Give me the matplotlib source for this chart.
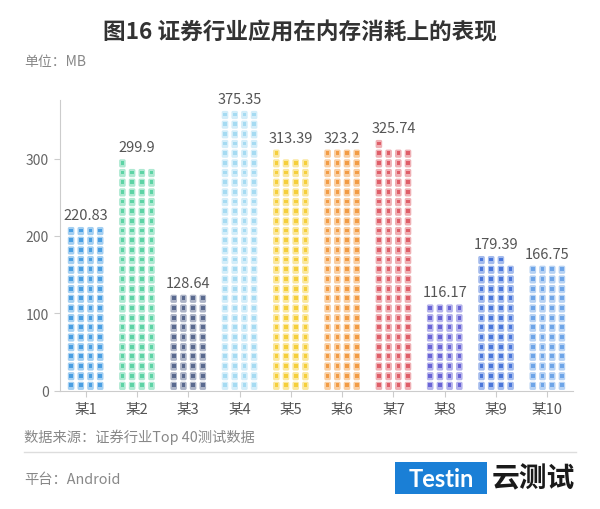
import numpy as np
import matplotlib.pyplot as plt
from matplotlib.patches import FancyBboxPatch, Rectangle
from matplotlib.collections import PatchCollection
from matplotlib.colors import to_rgb

plt.rcParams['font.family'] = ['Noto Sans CJK SC', 'DejaVu Sans']

# data
categories = ["某1", "某2", "某3", "某4", "某5", "某6", "某7", "某8", "某9", "某10"]
memory_mb = [220.83, 299.9, 128.64, 375.35, 313.39, 323.2, 325.74, 116.17, 179.39, 166.75]
colors = ["#4a9fe3", "#5dd3a5", "#5a6a8f", "#a6dbf2", "#f5cf3c",
          "#f29c45", "#df5f69", "#6a64d6", "#4a77db", "#6ea5e8"]
y_ticks = [0, 100, 200, 300]

mb_per_icon = 3.236   # each phone icon stands for this many MB
n_cols = 4
row_step = 12.5       # vertical pitch of one icon row, in MB

W, H = 600, 510
fig = plt.figure(figsize=(W / 100, H / 100), dpi=100)
ax_left, ax_right, ax_bottom, ax_top = 60, 573, 391.7, 101.2
ax = fig.add_axes([ax_left / W, 1 - ax_bottom / H,
                   (ax_right - ax_left) / W, (ax_bottom - ax_top) / H])

ymax = max(memory_mb)
ax.set_xlim(-0.5, len(categories) - 0.5)
ax.set_ylim(0, ymax)

# pixel -> data conversion
px_x = len(categories) / (ax_right - ax_left)
px_y = ymax / (ax_bottom - ax_top)

col_dx = 9.7 * px_x
icon_w, icon_h = 6.6 * px_x, 8.2 * px_y
scr_w, scr_h = 3.6 * px_x, 3.8 * px_y


def tint(c, amount):
    r, g, b = to_rgb(c)
    return (r + (1 - r) * amount, g + (1 - g) * amount, b + (1 - b) * amount)


outer, inner, outer_c, inner_c = [], [], [], []
tops = []
for i, (v, c) in enumerate(zip(memory_mb, colors)):
    n = int(round(v / mb_per_icon))
    base, extra = divmod(n, n_cols)
    col_counts = [base + (1 if k < extra else 0) for k in range(n_cols)]
    tops.append(max(col_counts) * row_step)
    for k, cnt in enumerate(col_counts):
        xc = i + (k - 1.5) * col_dx
        for r in range(cnt):
            yc = (r + 0.5) * row_step
            outer.append(FancyBboxPatch((xc - icon_w / 2, yc - icon_h / 2), icon_w, icon_h,
                                        boxstyle="round,pad=0,rounding_size=%f" % (1.6 * px_x),
                                        mutation_aspect=px_y / px_x))
            outer_c.append(tint(c, 0.5))
            inner.append(Rectangle((xc - scr_w / 2, yc - scr_h / 2 + 0.5 * px_y), scr_w, scr_h))
            inner_c.append(c)

ax.add_collection(PatchCollection(outer, facecolors=outer_c, edgecolors="none", zorder=3))
ax.add_collection(PatchCollection(inner, facecolors=inner_c, edgecolors="none", zorder=4))

for i, (v, t) in enumerate(zip(memory_mb, tops)):
    ax.annotate("%g" % v, (i, t), xytext=(0, 3), textcoords="offset points",
                ha="center", va="bottom", fontsize=10.5, color="#555555")

ax.set_xticks(range(len(categories)))
ax.set_xticklabels(categories, fontsize=10.5, color="#555555")
ax.set_yticks(y_ticks)
ax.set_yticklabels([str(t) for t in y_ticks], fontsize=10, color="#666666")
for s in ["top", "right"]:
    ax.spines[s].set_visible(False)
for s in ["left", "bottom"]:
    ax.spines[s].set_color("#cccccc")
ax.tick_params(axis="both", color="#cccccc", length=4, pad=4)

# texts around the chart
fig.text(0.5, 1 - 33 / H, "图16 证券行业应用在内存消耗上的表现", ha="center", va="center",
         fontsize=16.3, fontweight="bold", color="#333333")
fig.text(24 / W, 1 - 62 / H, "单位：MB", ha="left", va="center", fontsize=10, color="#888888")
fig.text(24 / W, 1 - 437 / H, "数据来源：证券行业Top 40测试数据", ha="left", va="center",
         fontsize=10.3, color="#888888")
fig.add_artist(plt.Line2D([24 / W, 576 / W], [1 - 453 / H, 1 - 453 / H],
                          color="#dddddd", lw=1))
fig.text(24 / W, 1 - 480 / H, "平台：Android", ha="left", va="center", fontsize=10.3, color="#888888")

# logo
fig.add_artist(Rectangle((395 / W, 1 - 495 / H), 92 / W, 32 / H, facecolor="#1a7fd6",
                         edgecolor="none", transform=fig.transFigure))
fig.text(441 / W, 1 - 479.5 / H, "Testin", ha="center", va="center", fontsize=17,
         fontweight="bold", color="white", family=["Lato", "DejaVu Sans"])
fig.text(533 / W, 1 - 479 / H, "云测试", ha="center", va="center", fontsize=20,
         fontweight="bold", color="#1a1a1a")

fig.savefig("out.png", dpi=100)
